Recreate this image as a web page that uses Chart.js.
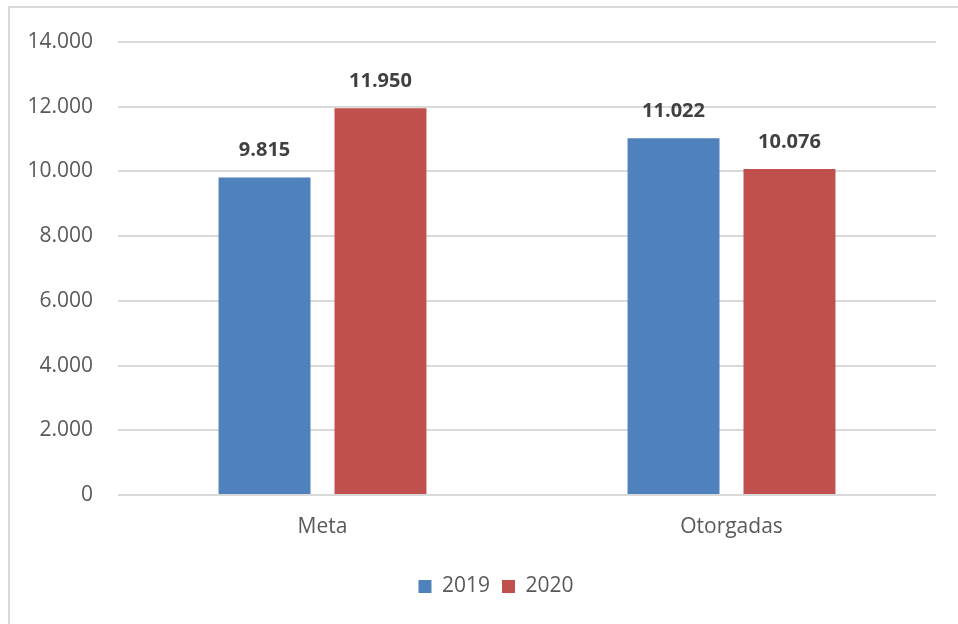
<!DOCTYPE html>
<html>
<head>
<meta charset="utf-8">
<script src="https://cdn.jsdelivr.net/npm/chart.js@4"></script>
<style>
  html, body { margin: 0; padding: 0; background: #fff; overflow: hidden; }
  #frame { position: absolute; left: 8px; top: 6px; width: 1000px; height: 700px; border: 2px solid #d9d9d9; }
  #wrap { position: absolute; left: 0; top: 0; width: 958px; height: 624px; }
</style>
</head>
<body>
<div id="frame"></div>
<div id="wrap"><canvas id="chart"></canvas></div>
<script>
const categories = ['Meta', 'Otorgadas'];
const series2019 = [9815, 11022];
const series2020 = [11950, 10076];
const seriesNames = ['2019', '2020'];

const fmt = (v) => String(v).replace(/\B(?=(\d{3})+(?!\d))/g, '.');

const valueLabels = {
    id: 'valueLabels',
    afterDatasetsDraw(chart) {
        const { ctx } = chart;
        ctx.save();
        ctx.font = 'bold 20px "Open Sans"';
        ctx.fillStyle = '#404040';
        ctx.textAlign = 'center';
        ctx.textBaseline = 'middle';
        chart.data.datasets.forEach((ds, i) => {
            chart.getDatasetMeta(i).data.forEach((bar, j) => {
                ctx.fillText(fmt(ds.data[j]), bar.x, bar.y - 27);
            });
        });
        ctx.restore();
    },
};

// legend sits a bit right of the canvas centre in the original
const shiftLegend = {
    id: 'shiftLegend',
    afterLayout(chart) {
        const lg = chart.legend;
        lg.left += 28;
        lg.right += 28;
        if (lg.legendHitBoxes) lg.legendHitBoxes.forEach((b) => { b.left += 28; });
    },
};

new Chart(document.getElementById('chart'), {
    type: 'bar',
    data: {
        labels: categories,
        datasets: [
            { label: seriesNames[0], data: series2019, backgroundColor: '#4F81BD' },
            { label: seriesNames[1], data: series2020, backgroundColor: '#C0504D' },
        ],
    },
    options: {
        responsive: true,
        maintainAspectRatio: false,
        animation: false,
        categoryPercentage: 0.567,
        barPercentage: 0.793,
        layout: { padding: { top: 42, right: 22, bottom: 17, left: 0 } },
        scales: {
            x: {
                grid: { display: false },
                border: { display: false },
                ticks: { color: '#595959', font: { family: 'Open Sans', size: 21 }, padding: 11 },
                afterFit: (scale) => { scale.height = 69; },
            },
            y: {
                min: 0,
                max: 14000,
                ticks: {
                    stepSize: 2000,
                    color: '#595959',
                    font: { family: 'Open Sans', size: 21 },
                    padding: 25,
                    callback: (v) => fmt(v),
                },
                grid: { color: '#d9d9d9', lineWidth: 2, drawTicks: false },
                border: { display: false },
                afterFit: (scale) => { scale.width = 118; },
            },
        },
        plugins: {
            legend: {
                position: 'bottom',
                labels: {
                    boxWidth: 13,
                    boxHeight: 13,
                    padding: 12,
                    color: '#595959',
                    font: { family: 'Open Sans', size: 21 },
                },
            },
            tooltip: { enabled: false },
        },
    },
    plugins: [valueLabels, shiftLegend],
});
</script>
</body>
</html>
